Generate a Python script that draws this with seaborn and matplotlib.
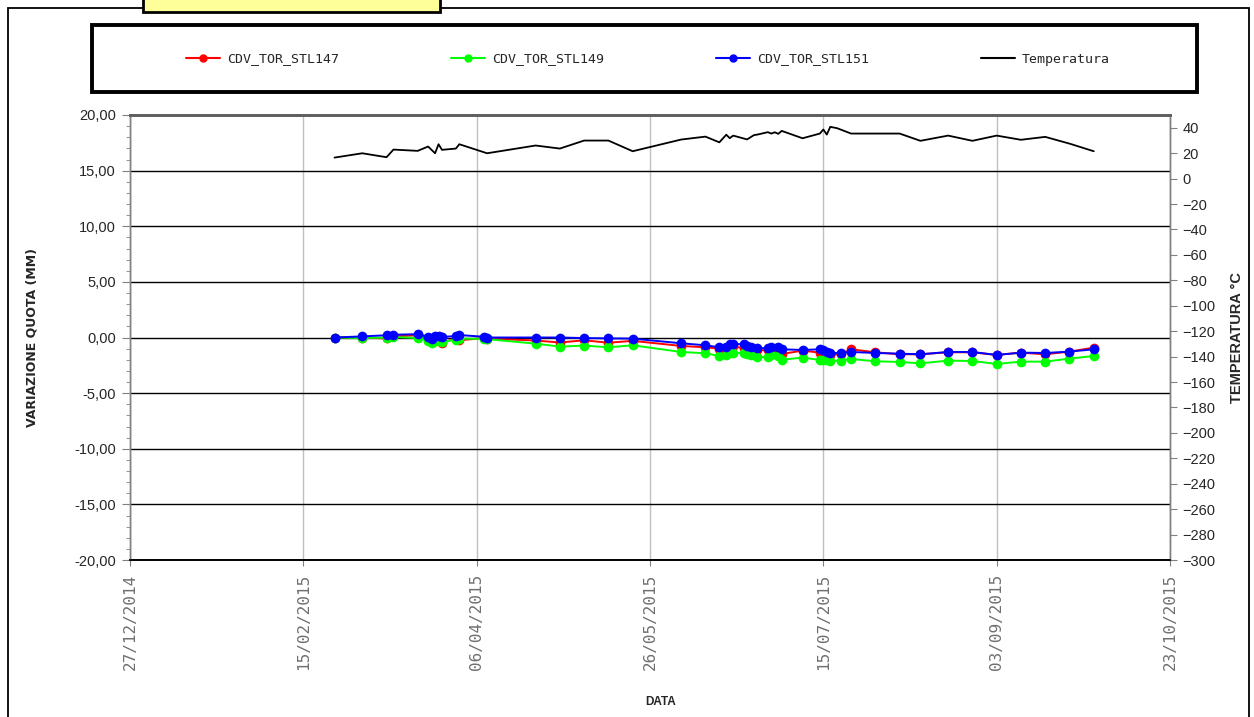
"""Variazione quota capisaldi CDV_TOR + temperatura"""

import matplotlib
matplotlib.use("Agg")
from matplotlib import pyplot as plt
from matplotlib.lines import Line2D
from matplotlib.patches import Rectangle
from matplotlib.ticker import MultipleLocator, FuncFormatter
import matplotlib.dates as mdates
import pandas as pd
import seaborn as sns

SERIES = ["CDV_TOR_STL147", "CDV_TOR_STL149", "CDV_TOR_STL151"]
COLORS = ["#ff0000", "#00ff00", "#0000ff"]
TEMP_LABEL = "Temperatura"

MEAS_DATES = [
    "2015-02-24", "2015-03-04", "2015-03-11", "2015-03-13", "2015-03-20",
    "2015-03-23", "2015-03-24", "2015-03-25", "2015-03-26", "2015-03-27",
    "2015-03-31", "2015-04-01", "2015-04-08", "2015-04-09", "2015-04-23",
    "2015-04-30", "2015-05-07", "2015-05-14", "2015-05-21", "2015-06-04",
    "2015-06-11", "2015-06-15", "2015-06-17", "2015-06-18", "2015-06-19",
    "2015-06-22", "2015-06-23", "2015-06-24", "2015-06-26", "2015-06-29",
    "2015-06-30", "2015-07-02", "2015-07-03", "2015-07-09", "2015-07-14",
    "2015-07-15", "2015-07-16", "2015-07-17", "2015-07-20", "2015-07-23",
    "2015-07-30", "2015-08-06", "2015-08-12", "2015-08-20", "2015-08-27",
    "2015-09-03", "2015-09-10", "2015-09-17", "2015-09-24", "2015-10-01",
]
STL147 = [
    0.00, 0.00, -0.08, 0.10, 0.20, 0.00, -0.10, 0.00, -0.10, -0.45,
    -0.10, -0.25, -0.05, -0.10, -0.27, -0.45, -0.25, -0.47, -0.30, -0.76,
    -0.88, -1.00, -0.95, -0.75, -0.80, -0.95, -1.00, -1.05, -1.12, -1.15,
    -1.10, -1.20, -1.48, -1.18, -1.36, -1.42, -1.48, -1.57, -1.50, -1.06,
    -1.33, -1.51, -1.51, -1.33, -1.33, -1.57, -1.36, -1.51, -1.27, -0.91,
]
STL149 = [
    0.00, -0.05, 0.00, 0.05, -0.05, -0.29, -0.47, -0.29, -0.29, -0.43,
    -0.18, -0.10, -0.12, -0.15, -0.55, -0.82, -0.73, -0.88, -0.70, -1.30,
    -1.42, -1.66, -1.55, -1.40, -1.36, -1.42, -1.50, -1.55, -1.72, -1.78,
    -1.57, -1.69, -2.00, -1.81, -2.02, -2.00, -2.05, -2.10, -2.08, -1.93,
    -2.14, -2.20, -2.32, -2.08, -2.11, -2.38, -2.17, -2.17, -1.90, -1.66,
]
STL151 = [
    0.00, 0.10, 0.20, 0.25, 0.30, 0.07, -0.10, 0.10, 0.10, 0.05,
    0.13, 0.22, 0.07, 0.00, 0.00, 0.00, -0.05, -0.08, -0.10, -0.52,
    -0.70, -0.88, -0.82, -0.61, -0.58, -0.61, -0.73, -0.82, -0.94, -0.97,
    -0.82, -0.82, -1.06, -1.12, -1.06, -1.12, -1.30, -1.42, -1.36, -1.30,
    -1.39, -1.45, -1.51, -1.30, -1.30, -1.57, -1.36, -1.39, -1.27, -1.06,
]

TEMP_DATES = [
    "2015-02-24", "2015-03-04", "2015-03-11", "2015-03-13", "2015-03-20",
    "2015-03-23", "2015-03-25", "2015-03-26", "2015-03-27", "2015-03-31",
    "2015-04-01", "2015-04-09", "2015-04-23", "2015-04-30", "2015-05-07",
    "2015-05-14", "2015-05-21", "2015-06-04", "2015-06-11", "2015-06-15",
    "2015-06-17", "2015-06-18", "2015-06-19", "2015-06-23", "2015-06-25",
    "2015-06-26", "2015-06-29", "2015-06-30", "2015-07-01", "2015-07-02",
    "2015-07-03", "2015-07-09", "2015-07-14", "2015-07-15", "2015-07-16",
    "2015-07-17", "2015-07-19", "2015-07-23", "2015-08-06", "2015-08-12",
    "2015-08-20", "2015-08-27", "2015-09-03", "2015-09-10", "2015-09-17",
    "2015-09-24", "2015-10-01",
]
TEMP = [
    16.5, 19.9, 16.8, 22.8, 21.8, 25.2, 19.9, 27.0, 22.6, 23.6,
    27.0, 19.9, 26.0, 23.6, 29.9, 29.9, 21.5, 30.7, 33.0, 28.5,
    34.5, 31.8, 33.8, 30.8, 34.2, 34.6, 36.5, 35.4, 36.4, 35.2,
    37.5, 31.7, 35.4, 38.6, 34.6, 40.7, 39.6, 35.4, 35.4, 29.7,
    33.8, 29.7, 33.8, 30.5, 32.8, 27.5, 21.5,
]

X_TICKS = ["2014-12-27", "2015-02-15", "2015-04-06", "2015-05-26",
           "2015-07-15", "2015-09-03", "2015-10-23"]


def comma_fmt(v, pos):
    if abs(v) < 1e-9:
        v = 0.0
    return f"{v:.2f}".replace(".", ",")


def main():
    sns.set_style("white")
    plt.rcParams["font.family"] = ["Liberation Sans", "DejaVu Sans"]

    W, H = 1254, 717
    fig = plt.figure(figsize=(W / 100, H / 100), dpi=100)
    ax = fig.add_axes([130 / W, 1 - 560 / H, 1040 / W, 445 / H])

    dates = pd.to_datetime(MEAS_DATES)
    df = pd.DataFrame({
        "data": list(dates) * 3,
        "quota": STL147 + STL149 + STL151,
        "serie": [s for s in SERIES for _ in MEAS_DATES],
    })
    sns.lineplot(df, x="data", y="quota", hue="serie", ax=ax,
                 palette=dict(zip(SERIES, COLORS)), hue_order=SERIES,
                 marker="o", markersize=7, markeredgewidth=0,
                 linewidth=1.4, errorbar=None, legend=False, zorder=3)

    ax2 = ax.twinx()
    sns.lineplot(x=pd.to_datetime(TEMP_DATES), y=TEMP, ax=ax2,
                 color="black", linewidth=1.3)

    # left axis
    ax.set_ylim(-20, 20)
    ax.yaxis.set_major_locator(MultipleLocator(5))
    ax.yaxis.set_minor_locator(MultipleLocator(1))
    ax.yaxis.set_major_formatter(FuncFormatter(comma_fmt))
    ax.tick_params(axis="y", which="major", left=True, length=6,
                   color="#808080", labelsize=10.5, pad=4)
    ax.tick_params(axis="y", which="minor", left=True, length=3,
                   color="#808080")
    ax.grid(axis="y", color="black", linewidth=1.0)

    # time axis
    xt = pd.to_datetime(X_TICKS)
    ax.set_xlim(xt[0], xt[-1])
    ax.set_xticks(xt)
    ax.xaxis.set_major_formatter(mdates.DateFormatter("%d/%m/%Y"))
    ax.tick_params(axis="x", bottom=True, length=4, color="#808080",
                   pad=6, labelrotation=90)
    for lbl in ax.get_xticklabels():
        lbl.set_family("DejaVu Sans Mono")
        lbl.set_fontsize(11.5)
        lbl.set_color("#707070")
    ax.grid(axis="x", color="#c0c0c0", linewidth=1.0)

    # right axis
    ax2.set_ylim(-300, 50)
    ax2.set_yticks(range(-300, 41, 20))
    ax2.tick_params(axis="y", right=True, length=5, color="#808080",
                    labelsize=10.5, pad=4)
    ax2.grid(False)

    for a in (ax, ax2):
        for side in ("left", "right"):
            a.spines[side].set_color("#808080")
            a.spines[side].set_linewidth(1.0)
        a.spines["top"].set_color("#606060")
        a.spines["top"].set_linewidth(2.0)
        a.spines["bottom"].set_color("black")
        a.spines["bottom"].set_linewidth(1.2)

    ax.set_xlabel("DATA", fontsize=8.5, fontweight="bold")
    ax.xaxis.set_label_coords(0.51, -0.305)
    ax.set_ylabel("VARIAZIONE QUOTA (MM)", fontsize=9, fontweight="bold",
                  family=["DejaVu Sans"])
    ax.yaxis.set_label_coords(-0.088, 0.5)
    ax2.set_ylabel("TEMPERATURA °C", fontsize=10.5, fontweight="bold")
    ax2.yaxis.set_label_coords(1.058, 0.5)

    # legend in its own boxed band
    handles = [Line2D([], [], color=c, marker="o", markersize=5, lw=1.5)
               for c in COLORS]
    handles.append(Line2D([], [], color="black", lw=1.5))
    fig.legend(handles, SERIES + [TEMP_LABEL], loc="center",
               bbox_to_anchor=(648 / W, 1 - 59 / H), ncol=4, frameon=False,
               prop={"family": "DejaVu Sans Mono", "size": 9.5},
               handlelength=2.6, handletextpad=0.5, columnspacing=8.5)
    fig.patches.append(Rectangle((92 / W, 1 - 92 / H), 1105 / W, 67 / H,
                                 transform=fig.transFigure, fill=False,
                                 edgecolor="black", linewidth=2.8))

    # chart frame and title box remnant
    fig.patches.append(Rectangle((8 / W, -0.01), 1241 / W, 1 - 8 / H + 0.01,
                                 transform=fig.transFigure, fill=False,
                                 edgecolor="black", linewidth=1.3))
    fig.patches.append(Rectangle((143 / W, 1 - 12 / H), 297 / W, 20 / H,
                                 transform=fig.transFigure,
                                 facecolor="#ffff99", edgecolor="black",
                                 linewidth=2.0))

    fig.savefig("out.png", dpi=100, facecolor="white")


if __name__ == "__main__":
    main()
